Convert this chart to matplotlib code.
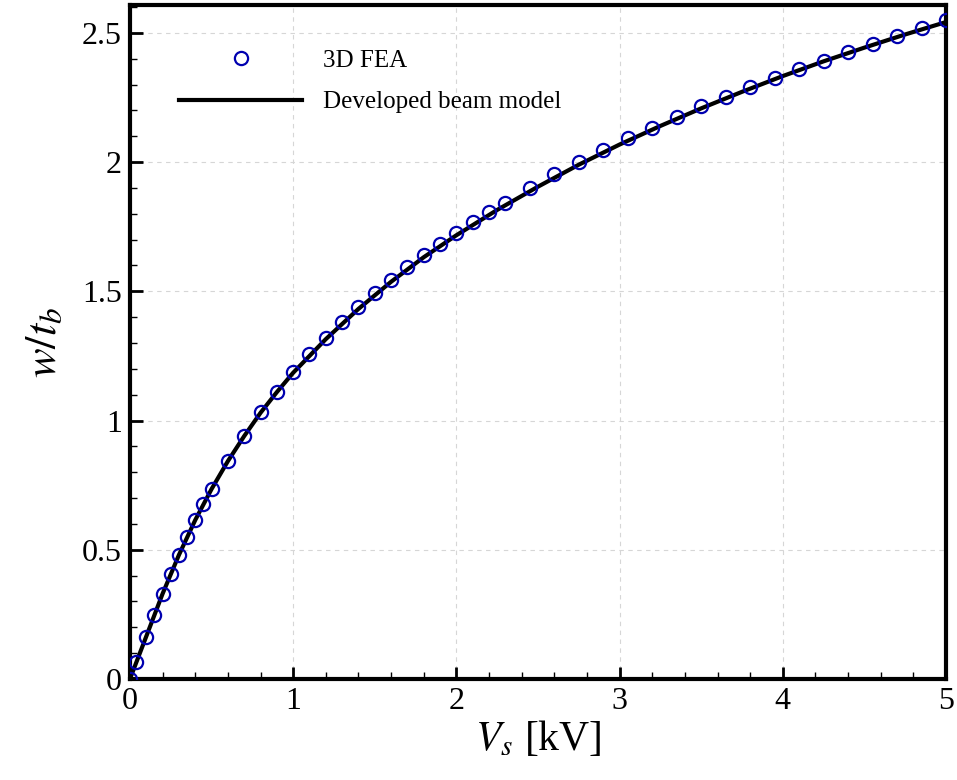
import numpy as np
import matplotlib
matplotlib.use("Agg")
import matplotlib.pyplot as plt
from matplotlib.ticker import MultipleLocator

plt.rcParams['font.family'] = ['Liberation Serif', 'DejaVu Serif']
plt.rcParams['mathtext.fontset'] = 'stix'

# 3D FEA points
fea_v = [0, 0.035, 0.1, 0.15, 0.2, 0.25, 0.3, 0.35, 0.4, 0.45, 0.5, 0.6, 0.7, 0.8, 0.9,
         1.0, 1.1, 1.2, 1.3, 1.4, 1.5, 1.6, 1.7, 1.8, 1.9, 2.0, 2.1, 2.2, 2.3, 2.45,
         2.6, 2.75, 2.9, 3.05, 3.2, 3.35, 3.5, 3.65, 3.8, 3.95, 4.1, 4.25, 4.4, 4.55,
         4.7, 4.85, 5.0]
fea_w = [0, 0.065, 0.163, 0.248, 0.329, 0.406, 0.48, 0.55, 0.615, 0.677, 0.735, 0.844,
         0.94, 1.033, 1.111, 1.188, 1.258, 1.32, 1.381, 1.44, 1.494, 1.544, 1.594, 1.641,
         1.683, 1.726, 1.768, 1.807, 1.842, 1.90, 1.954, 2.0, 2.047, 2.094, 2.132, 2.175,
         2.217, 2.252, 2.291, 2.325, 2.36, 2.392, 2.426, 2.457, 2.488, 2.52, 2.55]

# beam model curve
beam_v = [0, 0.1, 0.2, 0.3, 0.4, 0.5, 0.6, 0.7, 0.8, 0.9, 1.0, 1.2, 1.4, 1.6, 1.8, 2.0,
          2.25, 2.5, 2.75, 3.0, 3.25, 3.5, 3.75, 4.0, 4.25, 4.5, 4.75, 5.0]
beam_w = [0, 0.165, 0.33, 0.48, 0.615, 0.735, 0.843, 0.94, 1.03, 1.11, 1.185, 1.315,
          1.432, 1.537, 1.632, 1.717, 1.815, 1.905, 1.99, 2.068, 2.14, 2.208, 2.272,
          2.333, 2.39, 2.443, 2.494, 2.542]

fig = plt.figure(figsize=(9.57, 7.8), dpi=100)
ax = fig.add_axes([0.1358, 0.1295, 0.8527, 0.8641])

ax.plot(fea_v, fea_w, 'o', ls='none', mfc='none', mec='#0000b0', mew=1.6, ms=9.5,
        label='3D FEA', zorder=3)
ax.plot(beam_v, beam_w, '-', color='black', lw=3, label='Developed beam model', zorder=2)

ax.set_xlim(0, 5)
ax.set_ylim(0, 2.608)
ax.xaxis.set_major_locator(MultipleLocator(1))
ax.xaxis.set_minor_locator(MultipleLocator(0.2))
ax.yaxis.set_major_locator(MultipleLocator(0.5))
ax.yaxis.set_minor_locator(MultipleLocator(0.1))
ax.set_yticks([0, 0.5, 1, 1.5, 2, 2.5])
ax.set_yticklabels(['0', '0.5', '1', '1.5', '2', '2.5'])

ax.tick_params(which='major', direction='in', length=9, width=2, labelsize=23, pad=6)
ax.tick_params(which='minor', direction='in', length=5, width=1)
for s in ax.spines.values():
    s.set_linewidth(3)

ax.grid(True, which='major', ls=(0, (4, 4)), color='#d6d6d6', lw=0.8)
ax.set_axisbelow(True)

ax.set_xlabel(r'$V_s$ [kV]', fontsize=30, labelpad=2)
ax.set_ylabel(r'$w/t_b$', fontsize=32, labelpad=12)

ax.legend(loc='upper left', frameon=False, fontsize=18, handlelength=4.9,
          handletextpad=0.85, labelspacing=0.75, bbox_to_anchor=(0.033, 0.967))

fig.savefig('out.png', dpi=100)
